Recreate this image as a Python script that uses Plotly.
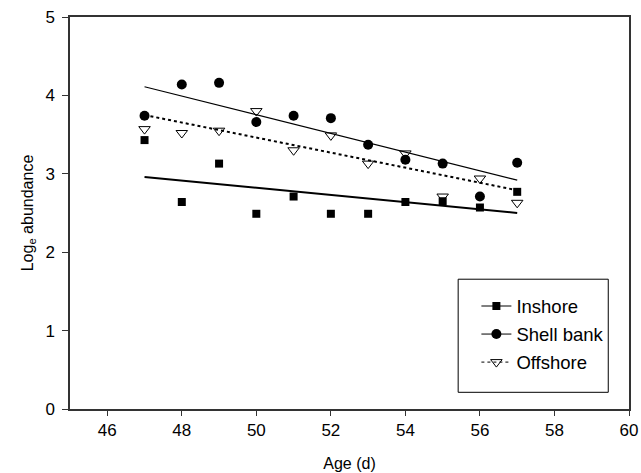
import plotly.graph_objects as go

ages = [47, 48, 49, 50, 51, 52, 53, 54, 55, 56, 57]
inshore = [3.43, 2.64, 3.13, 2.49, 2.71, 2.49, 2.49, 2.64, 2.65, 2.57, 2.77]
shell_bank = [3.74, 4.14, 4.16, 3.66, 3.74, 3.71, 3.37, 3.18, 3.13, 2.71, 3.14]
offshore = [3.57, 3.52, 3.55, 3.80, 3.30, 3.49, 3.13, 3.26, 2.71, 2.94, 2.63]

fit_x = [47, 57]
inshore_fit = [2.96, 2.50]
shell_bank_fit = [4.11, 2.92]
offshore_fit = [3.75, 2.79]

x_ticks = [46, 48, 50, 52, 54, 56, 58, 60]
y_ticks = [0, 1, 2, 3, 4, 5]

FONT = "Liberation Sans, Arial, sans-serif"
fig = go.Figure()

series = [
    ("Inshore", inshore, inshore_fit, dict(symbol="square", size=8, color="black"),
     dict(color="black", width=2, dash="solid")),
    ("Shell bank", shell_bank, shell_bank_fit, dict(symbol="circle", size=10, color="black"),
     dict(color="black", width=1.2, dash="solid")),
    ("Offshore", offshore, offshore_fit,
     dict(symbol="triangle-down-open", size=10, color="black", line=dict(width=1, color="black")),
     dict(color="black", width=2, dash="dot")),
]

for name, vals, fit, mk, ln in series:
    fig.add_trace(go.Scatter(x=fit_x, y=fit, mode="lines", line=ln, showlegend=False,
                             hoverinfo="skip"))
    fig.add_trace(go.Scatter(x=ages, y=vals, mode="markers", marker=mk, showlegend=False,
                             name=name))
    fig.add_trace(go.Scatter(x=[None], y=[None], mode="lines+markers", marker=mk,
                             line=dict(color="black", width=1, dash=ln["dash"]),
                             name=name, legendgroup=name, showlegend=True))

# legend frame (drawn as a paper-referenced rectangle for its padding)
fig.add_shape(type="rect", xref="paper", yref="paper",
              x0=0.6944, x1=0.9629, y0=0.0426, y1=0.3311,
              line=dict(color="black", width=1), fillcolor="rgba(0,0,0,0)", layer="below")

fig.update_layout(
    width=641, height=473,
    margin=dict(l=70, r=12, t=17, b=64),
    paper_bgcolor="white", plot_bgcolor="white",
    font=dict(family=FONT, size=17, color="black"),
    showlegend=True,
    legend=dict(x=0.727, y=0.310, xanchor="left", yanchor="top",
                borderwidth=0, bgcolor="rgba(0,0,0,0)",
                font=dict(size=18.5), tracegroupgap=1, traceorder="grouped",
                itemwidth=30),
)
fig.update_xaxes(range=[45, 60], tickvals=x_ticks, ticks="outside", ticklen=5,
                 showgrid=False, zeroline=False, showline=True, linecolor="#333",
                 linewidth=1.5, mirror=True, tickcolor="#333", automargin=False,
                 ticklabelstandoff=0,
                 title=dict(text="Age (d)", font=dict(size=16), standoff=19))
fig.update_yaxes(range=[0, 5], tickvals=y_ticks, ticks="outside", ticklen=6,
                 showgrid=False, zeroline=False, showline=True, linecolor="#333",
                 linewidth=1.5, mirror=True, tickcolor="#333", automargin=False,
                 ticklabelstandoff=4,
                 title=dict(text="Log<sub>e</sub> abundance", font=dict(size=16), standoff=8))

fig.write_html("out.html", config={"displayModeBar": False},
               post_script="document.body.style.margin='0';document.body.style.overflow='hidden';")
